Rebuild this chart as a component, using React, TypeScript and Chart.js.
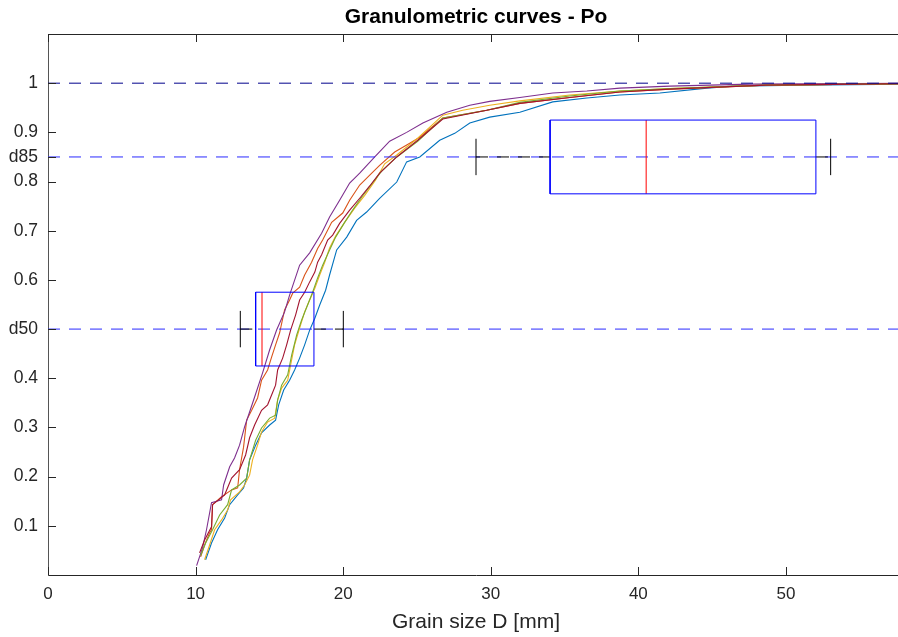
import React, { useEffect, useRef } from "react";
import { Chart, registerables } from "chart.js";

Chart.register(...registerables);

const TITLE = "Granulometric curves - Po";
const X_LABEL = "Grain size D [mm]";
const X_MIN = 0;
const X_MAX = 58;
const Y_MIN = 0;
const Y_MAX = 1.1;

const xTicks = [0, 10, 20, 30, 40, 50];
const yTickValues = [0.1, 0.2, 0.3, 0.4, 0.5, 0.6, 0.7, 0.8, 0.85, 0.9, 1];
const yTickLabels = ["0.1", "0.2", "0.3", "0.4", "d50", "0.6", "0.7", "0.8", "d85", "0.9", "1"];

// horizontal reference levels (1, d85, d50)
const refLevels = [1, 0.85, 0.5];

// box plots of the grain size at d50 and d85: [min, q1, median, q3, max]
const d50Stats = [13.03, 14.07, 14.5, 18.02, 20.01];
const d85Stats = [29.0, 34.02, 40.53, 52.03, 53.03];

// granulometric curves: [D mm, passing fraction]
const curveBlue = [
  [10.68, 0.031], [11.08, 0.065], [11.49, 0.092], [11.97, 0.116], [12.31, 0.143], [12.85, 0.163],
  [13.25, 0.177], [13.46, 0.197], [13.66, 0.234], [14.07, 0.264], [14.47, 0.289], [15.02, 0.305],
  [15.42, 0.315], [15.63, 0.346], [15.97, 0.376], [16.37, 0.396], [16.71, 0.417], [17.05, 0.441],
  [17.39, 0.468], [17.73, 0.498], [18.08, 0.522], [18.41, 0.549], [18.81, 0.579], [19.08, 0.61],
  [19.56, 0.661], [20.24, 0.687], [20.91, 0.721], [21.59, 0.738], [22.47, 0.766], [23.63, 0.799],
  [24.3, 0.84], [25.19, 0.85], [26.54, 0.884], [27.56, 0.898], [28.58, 0.919], [29.93, 0.931],
  [31.97, 0.941], [34.2, 0.962], [36.51, 0.97], [38.75, 0.976], [41.46, 0.98], [44.64, 0.99],
  [46.4, 0.994], [50.95, 0.996], [58.0, 0.998],
];

const curveOrange = [
  [10.34, 0.037], [10.61, 0.061], [10.95, 0.086], [11.08, 0.092], [11.15, 0.143], [11.76, 0.159],
  [12.44, 0.173], [12.85, 0.177], [12.98, 0.214], [13.25, 0.26], [13.46, 0.315], [13.8, 0.335],
  [14.2, 0.36], [14.47, 0.396], [14.88, 0.417], [15.15, 0.443], [15.42, 0.468], [15.69, 0.492],
  [16.03, 0.539], [16.37, 0.559], [16.58, 0.573], [17.05, 0.585], [17.39, 0.61], [17.86, 0.636],
  [18.27, 0.664], [18.61, 0.681], [19.22, 0.717], [19.97, 0.736], [20.44, 0.762], [21.12, 0.793],
  [21.8, 0.813], [22.47, 0.833], [23.49, 0.86], [24.51, 0.878], [25.19, 0.89], [26.75, 0.929],
  [29.73, 0.945], [31.97, 0.959], [35.36, 0.971], [38.75, 0.982], [42.14, 0.988], [48.64, 0.996],
  [58.0, 0.999],
];

const curveYellow = [
  [10.61, 0.031], [10.95, 0.061], [11.29, 0.092], [11.76, 0.112], [12.17, 0.132], [12.37, 0.153],
  [12.98, 0.169], [13.32, 0.183], [13.66, 0.203], [13.86, 0.234], [14.2, 0.264], [14.47, 0.291],
  [14.88, 0.311], [15.36, 0.319], [15.56, 0.356], [15.83, 0.38], [16.24, 0.396], [16.44, 0.427],
  [16.71, 0.468], [17.05, 0.502], [17.39, 0.535], [17.73, 0.559], [18.08, 0.583], [18.41, 0.61],
  [18.75, 0.636], [19.08, 0.665], [19.49, 0.689], [20.1, 0.717], [20.78, 0.746], [21.46, 0.772],
  [22.2, 0.803], [22.81, 0.836], [23.63, 0.854], [25.05, 0.888], [26.75, 0.935], [28.1, 0.945],
  [29.93, 0.955], [31.97, 0.964], [35.36, 0.976], [38.75, 0.984], [42.14, 0.989], [48.64, 0.996],
  [58.0, 0.999],
];

const curvePurple = [
  [10.07, 0.019], [10.47, 0.055], [10.74, 0.092], [11.08, 0.147], [11.76, 0.153], [11.9, 0.183],
  [12.31, 0.22], [12.64, 0.238], [12.98, 0.264], [13.32, 0.301], [14.0, 0.362], [14.54, 0.411],
  [15.02, 0.458], [15.49, 0.498], [16.03, 0.535], [16.37, 0.569], [17.05, 0.63], [17.73, 0.655],
  [18.54, 0.695], [19.08, 0.728], [19.76, 0.762], [20.44, 0.797], [21.12, 0.817], [22.14, 0.85],
  [23.15, 0.882], [24.3, 0.9], [25.4, 0.919], [27.02, 0.941], [28.58, 0.955], [29.93, 0.963],
  [31.97, 0.971], [34.2, 0.98], [36.51, 0.984], [38.75, 0.99], [42.14, 0.994], [47.56, 0.998],
  [58.0, 1.0],
];

const curveGreen = [
  [10.34, 0.039], [10.68, 0.065], [11.15, 0.092], [11.63, 0.122], [12.17, 0.143], [12.44, 0.173],
  [12.98, 0.183], [13.46, 0.197], [13.66, 0.234], [14.07, 0.274], [14.47, 0.299], [15.02, 0.319],
  [15.42, 0.325], [15.56, 0.356], [15.83, 0.386], [16.24, 0.407], [16.51, 0.447], [16.85, 0.488],
  [17.18, 0.518], [17.59, 0.549], [17.93, 0.575], [18.27, 0.604], [18.61, 0.63], [19.08, 0.661],
  [19.49, 0.687], [20.1, 0.717], [20.64, 0.742], [21.25, 0.768], [21.93, 0.795], [22.61, 0.821],
  [23.63, 0.85], [25.05, 0.882], [26.75, 0.929], [29.73, 0.945], [31.97, 0.961], [35.36, 0.974],
  [38.75, 0.984], [42.14, 0.989], [48.64, 0.996], [58.0, 0.999],
];

const curveDarkRed = [
  [10.27, 0.045], [10.61, 0.071], [11.08, 0.098], [11.15, 0.143], [11.97, 0.163], [12.44, 0.197],
  [12.98, 0.214], [13.39, 0.244], [13.66, 0.279], [14.0, 0.305], [14.47, 0.335], [14.88, 0.346],
  [15.15, 0.366], [15.42, 0.386], [15.56, 0.417], [15.9, 0.441], [16.17, 0.468], [16.44, 0.498],
  [16.78, 0.529], [17.05, 0.559], [17.39, 0.575], [17.73, 0.596], [18.08, 0.616], [18.27, 0.636],
  [18.54, 0.651], [18.95, 0.681], [19.29, 0.691], [19.76, 0.715], [20.44, 0.742], [21.12, 0.766],
  [21.8, 0.791], [22.47, 0.817], [23.63, 0.85], [25.05, 0.884], [26.75, 0.927], [29.73, 0.945],
  [31.97, 0.959], [35.36, 0.971], [38.75, 0.982], [42.14, 0.988], [48.64, 0.996], [58.0, 0.999],
];

const FONT = "'Liberation Sans', Arial, Helvetica, sans-serif";
const BOX_HALF = 0.075;
const CAP_HALF = 0.037;
const DASH = [12, 9];

const pts = (arr: number[][]) => arr.map(([x, y]) => ({ x, y }));

function boxDatasets(stats: number[], level: number) {
  const [mn, q1, med, q3, mx] = stats;
  const lo = level - BOX_HALF;
  const hi = level + BOX_HALF;
  const base = { pointRadius: 0, borderWidth: 1, tension: 0, fill: false, order: 0 };
  return [
    { ...base, data: [{ x: q1, y: lo }, { x: q3, y: lo }, { x: q3, y: hi }, { x: q1, y: hi }, { x: q1, y: lo }], borderColor: "#0000ff" },
    { ...base, data: [{ x: med, y: lo }, { x: med, y: hi }], borderColor: "#ff0000" },
    { ...base, data: [{ x: mn, y: level }, { x: q1, y: level }], borderColor: "#000000", borderDash: DASH },
    { ...base, data: [{ x: q3, y: level }, { x: mx, y: level }], borderColor: "#000000", borderDash: DASH },
    { ...base, data: [{ x: mn, y: level - CAP_HALF }, { x: mn, y: level + CAP_HALF }], borderColor: "#000000" },
    { ...base, data: [{ x: mx, y: level - CAP_HALF }, { x: mx, y: level + CAP_HALF }], borderColor: "#000000" },
  ];
}

const axisDecor = {
  id: "axisDecor",
  afterDatasetsDraw(chart: any) {
    const { ctx, chartArea, scales } = chart;
    const { left, right, top, bottom } = chartArea;
    const xs = scales.x;
    const ys = scales.y;
    ctx.save();
    ctx.strokeStyle = "#262626";
    ctx.lineWidth = 1;
    ctx.beginPath();
    ctx.moveTo(left, top + 0.5);
    ctx.lineTo(right, top + 0.5);
    for (const v of xTicks) {
      const px = Math.round(xs.getPixelForValue(v)) + 0.5;
      ctx.moveTo(px, bottom);
      ctx.lineTo(px, bottom - 8);
      ctx.moveTo(px, top);
      ctx.lineTo(px, top + 8);
    }
    for (const v of yTickValues) {
      const py = Math.round(ys.getPixelForValue(v)) + 0.5;
      ctx.moveTo(left, py);
      ctx.lineTo(left + 8, py);
    }
    ctx.stroke();
    // title centred over the axes area
    ctx.fillStyle = "#000000";
    ctx.font = `bold 21px ${FONT}`;
    ctx.textAlign = "center";
    ctx.textBaseline = "middle";
    ctx.fillText(TITLE, (left + right) / 2, 17);
    ctx.restore();
  },
};

export default function App() {
  const ref = useRef<HTMLCanvasElement | null>(null);

  useEffect(() => {
    if (!ref.current) return;
    const curveBase = { pointRadius: 0, borderWidth: 1.1, tension: 0, fill: false };
    const refSets = refLevels.map((lv, i) => ({
      data: [{ x: X_MIN, y: lv }, { x: X_MAX, y: lv }],
      borderColor: i === 0 ? "#00008c" : "#2a2aff",
      borderDash: DASH,
      pointRadius: 0,
      borderWidth: 1,
      fill: false,
      order: 1,
    }));
    const datasets: any[] = [
      ...boxDatasets(d50Stats, 0.5),
      ...boxDatasets(d85Stats, 0.85),
      ...refSets,
      { ...curveBase, data: pts(curveDarkRed), borderColor: "#A2142F", order: 2 },
      { ...curveBase, data: pts(curveGreen), borderColor: "#77AC30", order: 3 },
      { ...curveBase, data: pts(curvePurple), borderColor: "#7E2F8E", order: 4 },
      { ...curveBase, data: pts(curveYellow), borderColor: "#EDB120", order: 5 },
      { ...curveBase, data: pts(curveOrange), borderColor: "#D95319", order: 6 },
      { ...curveBase, data: pts(curveBlue), borderColor: "#0072BD", order: 7 },
    ];

    const chart = new Chart(ref.current, {
      type: "line",
      data: { datasets },
      plugins: [axisDecor],
      options: {
        animation: false,
        responsive: true,
        maintainAspectRatio: false,
        devicePixelRatio: 1,
        layout: { padding: { left: 0, top: 34, bottom: 0, right: 48 } },
        plugins: {
          legend: { display: false },
          tooltip: { enabled: false },
          title: { display: false },
        },
        scales: {
          x: {
            type: "linear",
            min: X_MIN,
            max: X_MAX,
            afterBuildTicks: (s: any) => {
              s.ticks = xTicks.map((v) => ({ value: v }));
            },
            afterFit: (s: any) => {
              s.height = 62;
            },
            ticks: {
              autoSkip: false,
              maxRotation: 0,
              padding: 9,
              color: "#262626",
              font: { family: FONT, size: 17 },
              callback: (v: any) => String(v),
            },
            grid: { display: false, drawTicks: false },
            border: { display: true, color: "#262626", width: 1 },
            title: {
              display: true,
              text: X_LABEL,
              color: "#262626",
              font: { family: FONT, size: 21 },
              padding: { top: 0, bottom: 2 },
            },
          },
          y: {
            type: "linear",
            min: Y_MIN,
            max: Y_MAX,
            afterBuildTicks: (s: any) => {
              s.ticks = yTickValues.map((v) => ({ value: v }));
            },
            afterFit: (s: any) => {
              s.width = 48;
            },
            ticks: {
              autoSkip: false,
              padding: 10,
              color: "#262626",
              font: { family: FONT, size: 17.5 },
              callback: (_v: any, i: number) => yTickLabels[i],
            },
            grid: { display: false, drawTicks: false },
            border: { display: true, color: "#555555", width: 1 },
          },
        },
      },
    });
    return () => chart.destroy();
  }, []);

  return (
    <div style={{ position: "fixed", left: 0, top: 0, width: 898, height: 637, overflow: "hidden", background: "#ffffff" }}>
      <div style={{ position: "relative", width: 952, height: 637 }}>
        <canvas ref={ref} />
      </div>
    </div>
  );
}
